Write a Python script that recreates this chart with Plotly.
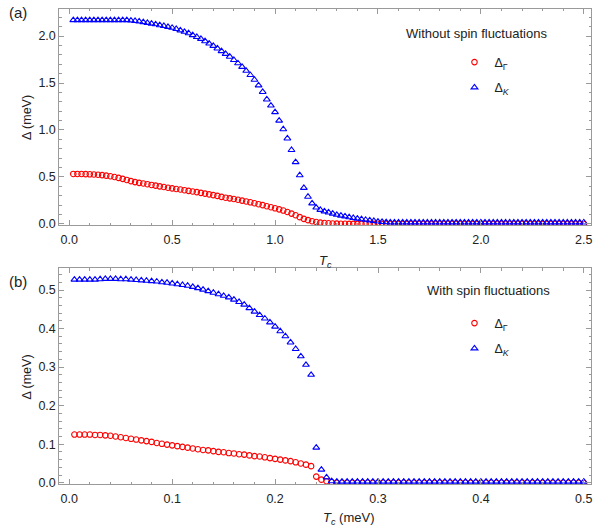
import plotly.graph_objects as go

# ---------------- data ----------------
T_top = [round(0.02 * k, 2) for k in range(1, 126)]          # 0.02 .. 2.50
T_bot = [round(0.005 * k, 3) for k in range(1, 101)]         # 0.005 .. 0.500

gamma_top = [0.532, 0.532, 0.531, 0.530, 0.528, 0.526, 0.523, 0.519, 0.514, 0.507,
             0.499, 0.490, 0.480, 0.468, 0.455, 0.445, 0.437, 0.430, 0.423, 0.415,
             0.408, 0.400, 0.393, 0.385, 0.378, 0.372, 0.366, 0.359, 0.352, 0.345,
             0.338, 0.330, 0.322, 0.314, 0.306, 0.298, 0.288, 0.279, 0.272, 0.265,
             0.257, 0.248, 0.239, 0.230, 0.220, 0.210, 0.200, 0.188, 0.177, 0.166,
             0.155, 0.142, 0.127, 0.110, 0.092, 0.072, 0.054, 0.040, 0.028, 0.020,
             0.014, 0.010, 0.007, 0.005, 0.003, 0.002, 0.001] + [0.0] * 58

K_top = [2.17] * 14 + [
    2.165, 2.160, 2.155, 2.148, 2.140, 2.132, 2.125, 2.115, 2.107, 2.098,
    2.088, 2.075, 2.060, 2.045, 2.030, 2.010, 1.990, 1.970, 1.945, 1.920,
    1.895, 1.868, 1.840, 1.810, 1.780, 1.745, 1.710, 1.672, 1.630, 1.585,
    1.535, 1.475, 1.405, 1.325, 1.260, 1.190, 1.100, 1.008, 0.910, 0.787,
    0.658, 0.518, 0.384, 0.289, 0.219, 0.174, 0.149, 0.134, 0.122, 0.110,
    0.097, 0.088, 0.080, 0.071, 0.063, 0.056, 0.050, 0.044, 0.038, 0.031,
    0.025, 0.021, 0.018] + [0.015] * 48

gamma_bot = [0.125, 0.125, 0.125, 0.125, 0.124, 0.124, 0.123, 0.122, 0.120, 0.118,
             0.116, 0.114, 0.112, 0.110, 0.108, 0.106, 0.103, 0.101, 0.099, 0.097,
             0.095, 0.093, 0.091, 0.089, 0.087, 0.085, 0.084, 0.082, 0.080, 0.079,
             0.077, 0.076, 0.074, 0.073, 0.071, 0.069, 0.068, 0.066, 0.064, 0.062,
             0.060, 0.058, 0.056, 0.053, 0.050, 0.047, 0.043, 0.016, 0.008, 0.004,
             0.002] + [0.0] * 49

K_bot = [0.527, 0.527, 0.527, 0.527, 0.527, 0.528, 0.529, 0.529, 0.529, 0.528,
         0.528, 0.527, 0.526, 0.525, 0.524, 0.523, 0.522, 0.520, 0.519, 0.517,
         0.515, 0.513, 0.511, 0.508, 0.505, 0.501, 0.497, 0.493, 0.489, 0.485,
         0.481, 0.475, 0.469, 0.462, 0.453, 0.444, 0.435, 0.426, 0.416, 0.405,
         0.393, 0.380, 0.364, 0.347, 0.328, 0.306, 0.280, 0.091, 0.034, 0.014,
         0.004] + [0.003] * 49

top_xticks = [0.0, 0.5, 1.0, 1.5, 2.0, 2.5]
top_yticks = [0.0, 0.5, 1.0, 1.5, 2.0]
bot_xticks = [0.0, 0.1, 0.2, 0.3, 0.4, 0.5]
bot_yticks = [0.0, 0.1, 0.2, 0.3, 0.4, 0.5]

name_gamma = "Δ<sub>Γ</sub>"
name_K = "Δ<sub><i>K</i></sub>"

# ---------------- layout helpers ----------------
W, H = 598, 529
def px(x):
    return x / W
def py(y):
    return 1 - y / H

FONT = "Liberation Sans, Arial, sans-serif"
FRAME = "#9a9a9a"
TXT = "#222222"
RED = "#ff0000"
BLUE = "#0000ff"

circle = dict(symbol="circle-open", size=5.5, color=RED, line=dict(color=RED, width=1.1))
tri = dict(symbol="triangle-up-open", size=6, color=BLUE, line=dict(color=BLUE, width=1.1))

fig = go.Figure()
fig.add_trace(go.Scatter(x=T_top, y=gamma_top, mode="markers", marker=circle,
                         name=name_gamma, xaxis="x", yaxis="y",
                         legend="legend", legendgroup="a1"))
fig.add_trace(go.Scatter(x=T_top, y=K_top, mode="markers", marker=tri,
                         name=name_K, xaxis="x", yaxis="y",
                         legend="legend", legendgroup="a2"))
fig.add_trace(go.Scatter(x=T_bot, y=gamma_bot, mode="markers", marker=circle,
                         name=name_gamma, xaxis="x2", yaxis="y2",
                         legend="legend2", legendgroup="b1"))
fig.add_trace(go.Scatter(x=T_bot, y=K_bot, mode="markers", marker=tri,
                         name=name_K, xaxis="x2", yaxis="y2",
                         legend="legend2", legendgroup="b2"))

def axis(rng, tickvals, minor_dtick, domain, anchor, standoff):
    return dict(range=rng, domain=domain, anchor=anchor,
                tickmode="array", tickvals=tickvals, tickformat=".1f",
                ticks="inside", ticklen=5, tickwidth=1, tickcolor=FRAME,
                minor=dict(ticks="inside", dtick=minor_dtick, ticklen=2.5,
                           tickwidth=1, tickcolor=FRAME, showgrid=False),
                showline=True, linecolor=FRAME, linewidth=1, mirror="ticks",
                showgrid=False, zeroline=False, ticklabeloverflow="allow",
                ticklabelstandoff=standoff,
                tickfont=dict(family=FONT, size=12.5, color=TXT))

xdom = [px(59.5), px(593)]
leg = dict(xanchor="left", yanchor="top", bgcolor="rgba(0,0,0,0)",
           font=dict(family=FONT, size=12.5, color=TXT),
           tracegroupgap=6, traceorder="grouped")
fig.update_layout(
    width=W, height=H,
    margin=dict(l=0, r=0, t=0, b=0),
    paper_bgcolor="white", plot_bgcolor="white",
    font=dict(family=FONT, color=TXT),
    xaxis=axis([-0.048, 2.535], top_xticks, 0.1, xdom, "y", 3),
    yaxis=axis([-0.016, 2.289], top_yticks, 0.1, [py(228), py(9)], "x", 0),
    xaxis2=axis([-0.0097, 0.507], bot_xticks, 0.02, xdom, "y2", 3),
    yaxis2=axis([-0.0044, 0.556], bot_yticks, 0.02, [py(490), py(271.5)], "x2", 0),
    legend=dict(leg, x=px(456), y=py(48)),
    legend2=dict(leg, x=px(456), y=py(312)),
    showlegend=True,
)

ann = [
    dict(text="(a)", x=px(18), y=py(13), font=dict(size=15)),
    dict(text="(b)", x=px(18), y=py(285), font=dict(size=15)),
    dict(text="Δ (meV)", x=px(27), y=py(118.5), textangle=-90, font=dict(size=12.5)),
    dict(text="Δ (meV)", x=px(27), y=py(381), textangle=-90, font=dict(size=12.5)),
    dict(text="<i>T<sub>c</sub></i>", x=px(327), y=py(264), font=dict(size=13)),
    dict(text="<i>T<sub>c</sub></i> (meV)", x=px(350), y=py(524), font=dict(size=13)),
    dict(text="Without spin fluctuations", x=px(478), y=py(34), font=dict(size=13)),
    dict(text="With spin fluctuations", x=px(490), y=py(294), font=dict(size=13)),
]
for a in ann:
    a.update(xref="paper", yref="paper", showarrow=False, xanchor="center", yanchor="middle")
    a["font"].update(family=FONT, color=TXT)
fig.update_layout(annotations=ann)

fig.write_html(
    "out.html",
    config={"displayModeBar": False},
    post_script="document.body.style.margin='0';document.body.style.overflow='hidden';"
                "document.documentElement.style.overflow='hidden';",
)
